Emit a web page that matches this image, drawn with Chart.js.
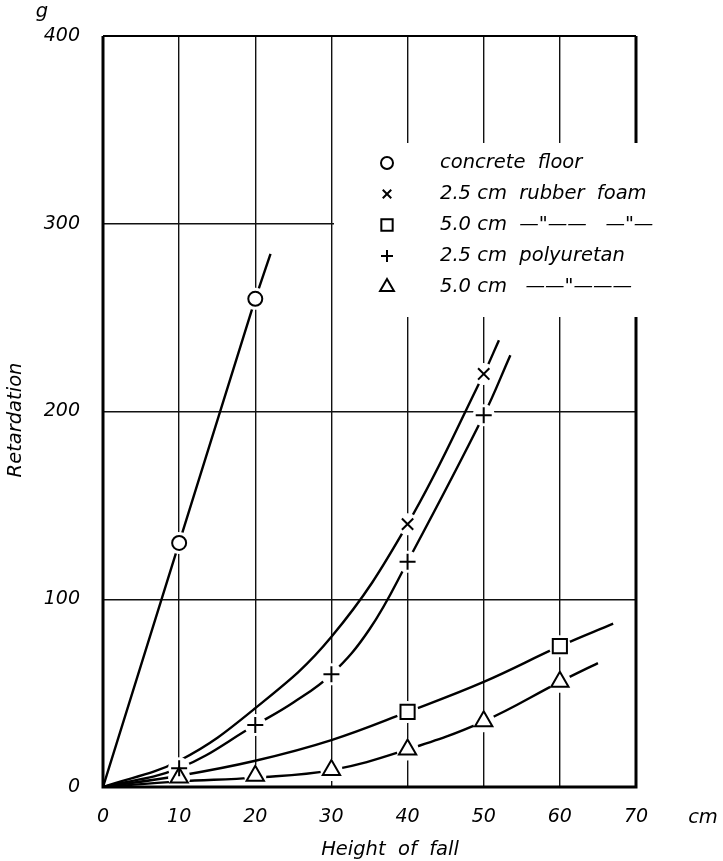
<!DOCTYPE html>
<html>
<head>
<meta charset="utf-8">
<script src="https://cdn.jsdelivr.net/npm/chart.js@4/dist/chart.umd.min.js"></script>
<style>
    body { margin: 0; background: #fff; }
    #chart { display: block; }
</style>
</head>
<body>
<canvas id="chart" width="723" height="861"></canvas>
<script>
// Values (x = height of fall in cm, y = retardation in g)

var legendLabels = ['concrete  floor', '2.5 cm  rubber  foam', '5.0 cm  \u2014"\u2014\u2014   \u2014"\u2014', '2.5 cm  polyuretan', '5.0 cm   \u2014\u2014"\u2014\u2014\u2014'];
var markerStyles = ['circle', 'crossRot', 'rect', 'cross', 'triangle'];

// curves
var concreteLineX = [0, 10, 20, 22];
var concreteLineY = [0, 130, 260, 284];
var rubber25LineX = [0, 10, 20, 30, 40, 50, 52];
var rubber25LineY = [0, 14, 42, 80, 140, 220, 238];
var rubber50LineX = [0, 10, 20, 30, 40, 50, 60, 67];
var rubber50LineY = [0, 6, 14, 25, 40, 56, 75, 87];
var poly25LineX = [0, 10, 20, 25, 30, 35, 40, 50, 53.5];
var poly25LineY = [0, 10, 33, 45, 60, 84, 120, 198, 230];
var poly50LineX = [0, 10, 20, 30, 40, 50, 60, 65];
var poly50LineY = [0, 3, 5, 9, 20, 35, 56, 66];

// measured points
var concreteX = [10, 20];
var concreteY = [130, 260];
var rubber25X = [40, 50];
var rubber25Y = [140, 220];
var rubber50X = [40, 60];
var rubber50Y = [40, 75];
var poly25X = [10, 20, 30, 40, 50];
var poly25Y = [10, 33, 60, 120, 198];
var poly50X = [10, 20, 30, 40, 50, 60];
var poly50Y = [5, 6, 9, 20, 35, 56];

var xTickMax = 70;
var yTickMax = 400;

function pts(xs, ys) {
    return xs.map(function(x, i) { return {x: x, y: ys[i]}; });
}

var lineSets = [
    pts(concreteLineX, concreteLineY),
    pts(rubber25LineX, rubber25LineY),
    pts(rubber50LineX, rubber50LineY),
    pts(poly25LineX, poly25LineY),
    pts(poly50LineX, poly50LineY)
];
var markerSets = [
    pts(concreteX, concreteY),
    pts(rubber25X, rubber25Y),
    pts(rubber50X, rubber50Y),
    pts(poly25X, poly25Y),
    pts(poly50X, poly50Y)
];
var markerRadius = [7, 8, 10, 8, 10];

var datasets = [];
lineSets.forEach(function(d, i) {
    datasets.push({
        data: d,
        showLine: true,
        borderColor: '#000',
        borderWidth: 2.4,
        pointRadius: 0,
        tension: i === 0 ? 0 : 0.4,
        order: 3
    });
});
// white gaps round the markers
markerSets.forEach(function(d) {
    datasets.push({
        data: d,
        showLine: false,
        pointStyle: 'circle',
        pointRadius: 11,
        pointBackgroundColor: '#fff',
        pointBorderWidth: 0,
        order: 2
    });
});
markerSets.forEach(function(d, i) {
    datasets.push({
        data: d,
        showLine: false,
        pointStyle: markerStyles[i],
        pointRadius: markerRadius[i],
        pointBackgroundColor: 'rgba(0,0,0,0)',
        pointBorderColor: '#000',
        pointBorderWidth: 2,
        order: 1
    });
});

var italic = 'italic 19.5px "DejaVu Sans"';

var paperPlugin = {
    id: 'paper',
    beforeDatasetsDraw: function(chart) {
        var ctx = chart.ctx;
        ctx.save();
        ctx.fillStyle = '#fff';
        ctx.fillRect(334, 143, 330, 174);
        ctx.restore();
    },
    afterDatasetsDraw: function(chart) {
        var ctx = chart.ctx;
        var a = chart.chartArea;
        ctx.save();
        ctx.strokeStyle = '#000';
        ctx.lineWidth = 3;
        ctx.beginPath();
        ctx.moveTo(a.left, a.top);
        ctx.lineTo(a.left, a.bottom);
        ctx.lineTo(a.right, a.bottom);
        ctx.lineTo(a.right, 317);
        ctx.moveTo(a.right, 143);
        ctx.lineTo(a.right, a.top);
        ctx.stroke();
        ctx.lineWidth = 2;
        ctx.beginPath();
        ctx.moveTo(a.left, a.top);
        ctx.lineTo(a.right, a.top);
        ctx.stroke();

        // legend
        ctx.font = italic;
        ctx.textBaseline = 'middle';
        ctx.textAlign = 'left';
        legendLabels.forEach(function(t, i) {
            var y = 163 + i * 31;
            ctx.lineWidth = 2;
            ctx.strokeStyle = '#000';
            ctx.fillStyle = '#fff';
            Chart.helpers.drawPoint(ctx, {
                pointStyle: markerStyles[i],
                radius: i === 2 || i === 4 ? 8 : 6,
                rotation: 0,
                borderWidth: 2
            }, 387, y);
            ctx.fillStyle = '#000';
            ctx.fillText(t, 440, y);
        });

        ctx.textAlign = 'center';
        ctx.fillText('g', 42, 12);
        ctx.fillText('cm', 703, 818);
        ctx.fillText('Height  of  fall', 390, 850);
        ctx.translate(16, 420);
        ctx.rotate(-Math.PI / 2);
        ctx.fillText('Retardation', 0, 0);
        ctx.restore();
    }
};

var ctx = document.getElementById('chart').getContext('2d');
window.myChart = new Chart(ctx, {
    type: 'scatter',
    data: { datasets: datasets },
    plugins: [paperPlugin],
    options: {
        responsive: false,
        animation: false,
        layout: { padding: { top: 36, right: 87, left: 0, bottom: 0 } },
        plugins: {
            legend: { display: false },
            tooltip: { enabled: false }
        },
        scales: {
            x: {
                type: 'linear',
                min: 0,
                max: xTickMax,
                afterFit: function(scale) { scale.height = 74; },
                ticks: {
                    stepSize: 10,
                    color: '#000',
                    padding: 19,
                    font: { family: 'DejaVu Sans', size: 19, style: 'italic' }
                },
                grid: { color: '#111', lineWidth: 1.4, drawTicks: false },
                border: { display: false }
            },
            y: {
                type: 'linear',
                min: 0,
                max: yTickMax,
                afterFit: function(scale) { scale.width = 103; },
                ticks: {
                    stepSize: 100,
                    color: '#000',
                    padding: 23,
                    font: { family: 'DejaVu Sans', size: 19, style: 'italic' }
                },
                grid: { color: '#111', lineWidth: 1.4, drawTicks: false },
                border: { display: false }
            }
        }
    }
});
</script>
</body>
</html>
